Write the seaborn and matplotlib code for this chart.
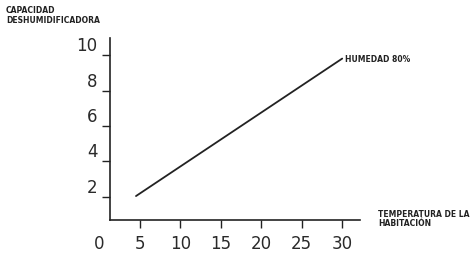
import pandas as pd
import matplotlib
matplotlib.use("Agg")
import matplotlib.pyplot as plt
import seaborn as sns

# Data
temperatura = [4.5, 30]
capacidad = [2.05, 9.8]
x_ticks = [0, 5, 10, 15, 20, 25, 30]
y_ticks = [2, 4, 6, 8, 10]

df = pd.DataFrame({"Temperatura": temperatura, "Capacidad": capacidad})

sns.set_style("ticks")
plt.rcParams["font.family"] = ["DejaVu Sans"]

W, H = 472, 263
fig = plt.figure(figsize=(W / 100, H / 100), dpi=100)
ax = fig.add_axes([99.6 / W, 1 - 220 / H, (360 - 99.6) / W, (220 - 38) / H])

sns.lineplot(data=df, x="Temperatura", y="Capacidad", color="#222222", linewidth=1.3, ax=ax)

ax.set_xlim(0, 32.2)
ax.set_ylim(0.7, 10.96)
ax.set_xticks(x_ticks)
ax.set_yticks(y_ticks)
ax.set_xlabel("")
ax.set_ylabel("")

for s in ["top", "right"]:
    ax.spines[s].set_visible(False)
ax.spines["left"].set_position(("data", 1.29))
ax.spines["bottom"].set_bounds(1.29, 32.2)
for s in ["left", "bottom"]:
    ax.spines[s].set_linewidth(1.2)
    ax.spines[s].set_color("#222222")

ax.tick_params(axis="both", colors="#222222", labelcolor="#2a2a2a", labelsize=12, width=1.0, length=6)
ax.tick_params(axis="x", pad=5)
ax.tick_params(axis="y", pad=3)
ax.xaxis.get_major_ticks()[0].tick1line.set_visible(False)
for lab in ax.get_yticklabels():
    lab.set_va("bottom")

# annotations
small = dict(fontsize=5.5, fontweight="bold", color="#222222", linespacing=1.1)
fig.text(6 / W, 1 - 6 / H, "CAPACIDAD\nDESHUMIDIFICADORA", ha="left", va="top", **small)
fig.text(345 / W, 1 - 60 / H, "HUMEDAD 80%", ha="left", va="center", **small)
fig.text(378 / W, 1 - 219 / H, "TEMPERATURA DE LA\nHABITACIÓN", ha="left", va="center", **small)

fig.savefig("out.png", dpi=100, facecolor="white")
